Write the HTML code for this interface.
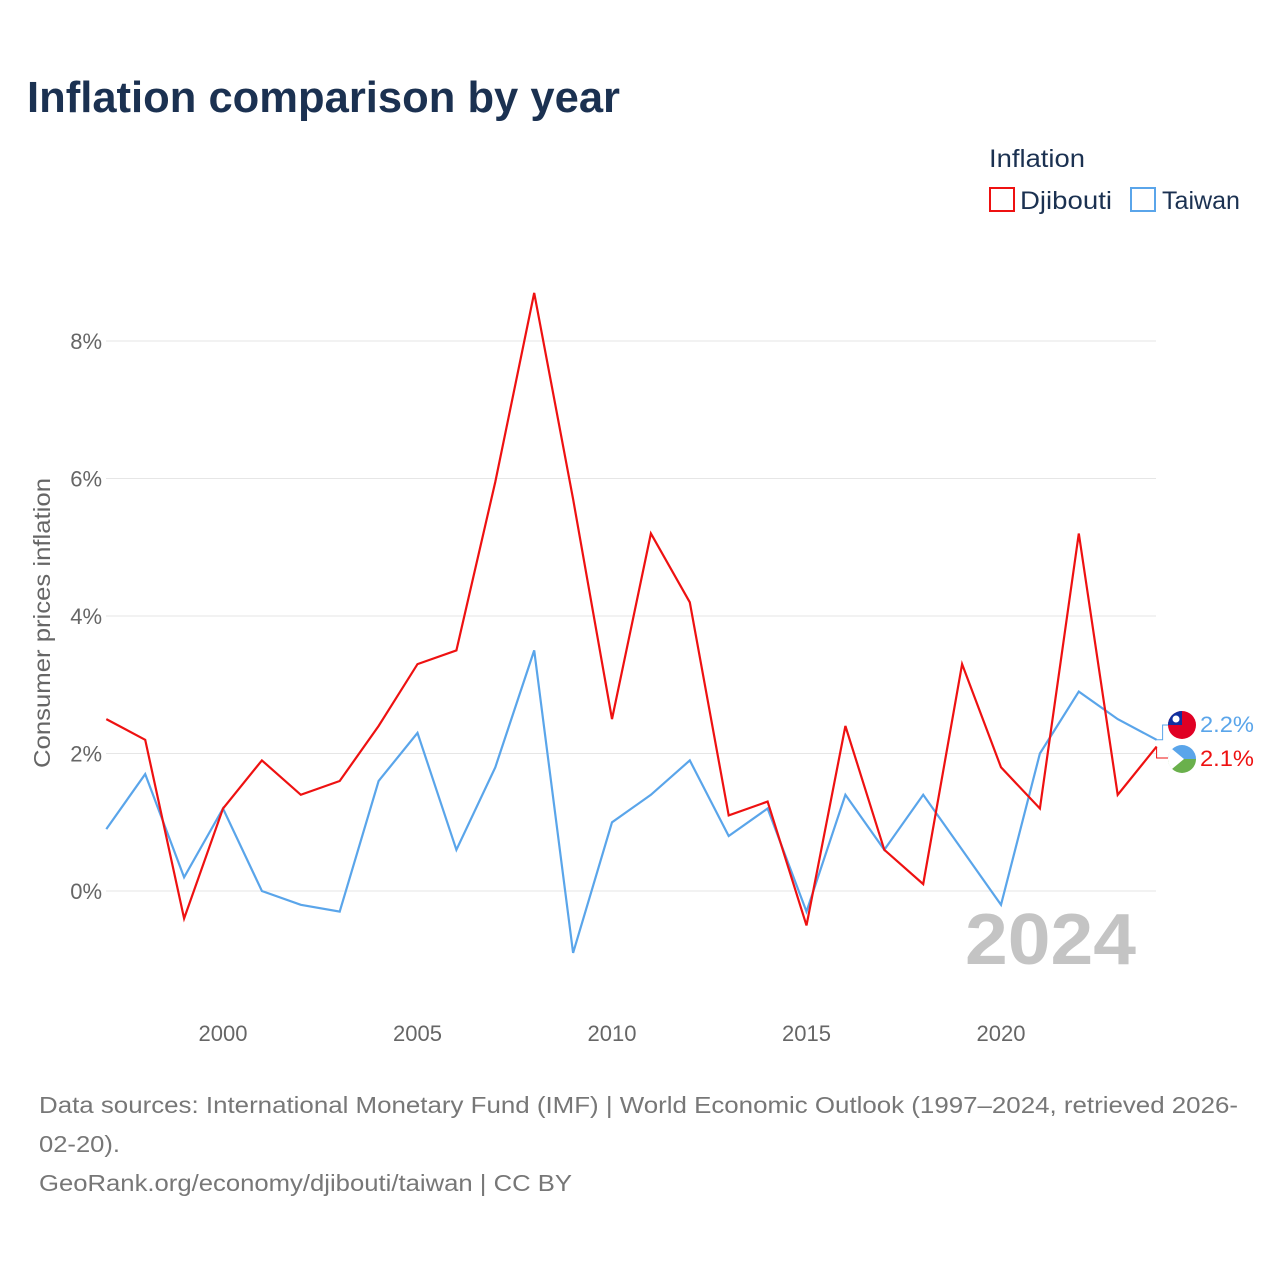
<!DOCTYPE html>
<html><head><meta charset="utf-8"><style>
body{margin:0;background:#fff;font-family:"Liberation Sans",sans-serif;}
#wrap{position:relative;width:1280px;height:1280px;overflow:hidden;}
</style></head><body>
<div id="wrap">
<svg id="chart" width="1280" height="1280"></svg>
</div>
<script>
const years = [1997,1998,1999,2000,2001,2002,2003,2004,2005,2006,2007,2008,2009,2010,2011,2012,2013,2014,2015,2016,2017,2018,2019,2020,2021,2022,2023,2024];
const djibouti = [2.5,2.2,-0.4,1.2,1.9,1.4,1.6,2.4,3.3,3.5,5.95,8.7,5.7,2.5,5.2,4.2,1.1,1.3,-0.5,2.4,0.6,0.1,3.3,1.8,1.2,5.2,1.4,2.1];
const taiwan = [0.9,1.7,0.2,1.2,0,-0.2,-0.3,1.6,2.3,0.6,1.8,3.5,-0.9,1.0,1.4,1.9,0.8,1.2,-0.3,1.4,0.6,1.4,0.6,-0.2,2.0,2.9,2.5,2.2];
const yTicks = [0,2,4,6,8];
const xTicks = [2000,2005,2010,2015,2020];

const NS="http://www.w3.org/2000/svg";
const svg=document.getElementById('chart');
const xS=y=>223+(y-2000)*38.9;
const yS=v=>891-v*68.75;
function mk(tag,attrs,text){const e=document.createElementNS(NS,tag);for(const k in attrs)e.setAttribute(k,attrs[k]);if(text!==undefined)e.textContent=text;svg.appendChild(e);return e;}

let t=mk('text',{x:27,y:112,'font-size':44,'font-weight':'bold',fill:'#1b3151',textLength:593,lengthAdjust:'spacingAndGlyphs'},'Inflation comparison by year');



t=mk('text',{x:989,y:167,'font-size':25,fill:'#1b3151',textLength:96,lengthAdjust:'spacingAndGlyphs'},'Inflation');


let r=mk('rect',{x:990,y:188,width:24,height:23,fill:'none',stroke:'#ee1111','stroke-width':2});


t=mk('text',{x:1020,y:209,'font-size':25,fill:'#1b3151',textLength:92,lengthAdjust:'spacingAndGlyphs'},'Djibouti');


r=mk('rect',{x:1131,y:188,width:24,height:23,fill:'none',stroke:'#5aa5ea','stroke-width':2});


t=mk('text',{x:1162,y:209,'font-size':25,fill:'#1b3151',textLength:78,lengthAdjust:'spacingAndGlyphs'},'Taiwan');



yTicks.forEach(v=>{
 const l=mk('line',{x1:106,x2:1156,y1:yS(v),y2:yS(v),stroke:'#e6e6e6','stroke-width':1});
 
 
 const tx=mk('text',{x:102,y:yS(v)+8,'font-size':22,fill:'#666','text-anchor':'end'},v+'%');
 
 
});
xTicks.forEach(y=>{
 const tx=mk('text',{x:xS(y),y:1041,'font-size':22,fill:'#666','text-anchor':'middle'},String(y));
 
 
});
t=mk('text',{x:0,y:0,'font-size':23,fill:'#666','text-anchor':'middle',transform:'translate(50,623) rotate(-90)',textLength:290,lengthAdjust:'spacingAndGlyphs'},'Consumer prices inflation');



t=mk('text',{x:965,y:964,'font-size':72,'font-weight':'bold',fill:'#c4c4c4',textLength:171,lengthAdjust:'spacingAndGlyphs'},'2024');



function line(vals,color,name){
 const d=vals.map((v,i)=>(i?'L':'M')+xS(years[i]).toFixed(1)+','+yS(v).toFixed(1)).join('');
 const p=mk('path',{d:d,fill:'none',stroke:color,'stroke-width':2.2,'stroke-linejoin':'miter'});
 
 
}
line(taiwan,'#5aa5ea','series-taiwan');
line(djibouti,'#ee1111','series-djibouti');

const lastT=taiwan[taiwan.length-1], lastD=djibouti[djibouti.length-1];
const ex=xS(years[years.length-1]);
let c=mk('path',{d:`M${ex},${yS(lastT)}L${ex+6},${yS(lastT)}L${ex+6},725L${ex+12},725`,fill:'none',stroke:'#5aa5ea','stroke-width':1});

c=mk('path',{d:`M${ex},${yS(lastD)}L${ex},758L${ex+12},758`,fill:'none',stroke:'#ee1111','stroke-width':1});

let f=mk('circle',{cx:1182,cy:725,r:14,fill:'#e00024'});

f=mk('path',{d:'M1168,725A14,14 0 0 1 1182,711L1182,725Z',fill:'#1030a0'});

f=mk('circle',{cx:1176,cy:719,r:3.5,fill:'#fff'});

f=mk('path',{d:'M1168,759A14,14 0 0 1 1196,759Z',fill:'#5aa5ea'});

f=mk('path',{d:'M1168,759A14,14 0 0 0 1196,759Z',fill:'#6ab04c'});

f=mk('path',{d:'M1168,759A14,14 0 0 1 1172,749L1184,759L1172,769A14,14 0 0 1 1168,759Z',fill:'#fff'});

t=mk('text',{x:1200,y:732,'font-size':22,fill:'#5aa5ea',textLength:54,lengthAdjust:'spacingAndGlyphs'},lastT.toFixed(1)+'%');

t=mk('text',{x:1200,y:766,'font-size':22,fill:'#ee1111',textLength:54,lengthAdjust:'spacingAndGlyphs'},lastD.toFixed(1)+'%');


const src=['Data sources: International Monetary Fund (IMF) | World Economic Outlook (1997–2024, retrieved 2026-','02-20).','GeoRank.org/economy/djibouti/taiwan | CC BY'];
const srcLen=[1199,81,533];
src.forEach((s,i)=>{
 const tx=mk('text',{x:39,y:1113+i*39,'font-size':23,fill:'#777',textLength:srcLen[i],lengthAdjust:'spacingAndGlyphs'},s);
 
 
});
</script>
</body></html>
